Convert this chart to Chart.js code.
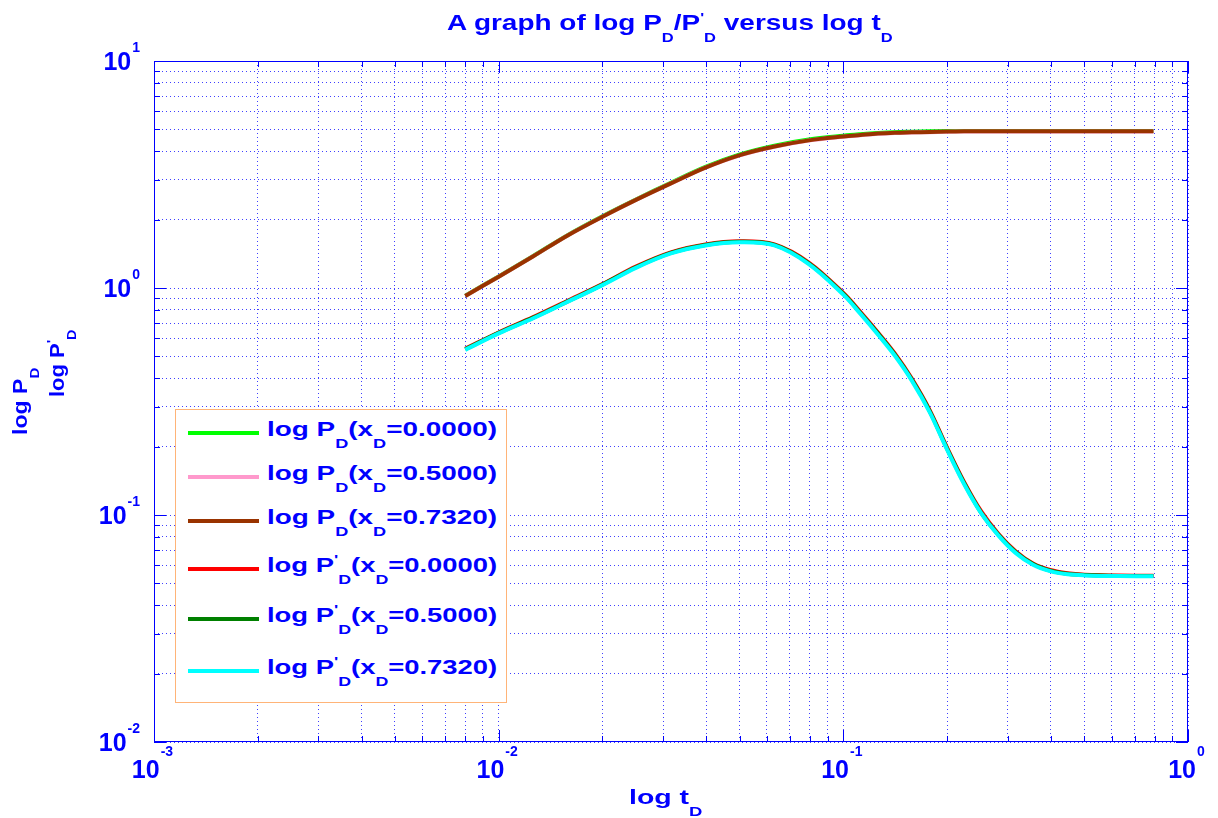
<!DOCTYPE html>
<html lang="en">
<head>
<meta charset="UTF-8">
<title>log PD / PD' versus log tD</title>
<script src="https://cdn.jsdelivr.net/npm/chart.js"></script>
<style>
    body { margin: 0; background: #fff; }
    #wrap { position: relative; width: 1218px; height: 818px; }
    .t {
        position: absolute; white-space: nowrap; color: #0000ff;
        font: bold 20px "Liberation Sans", Arial, sans-serif; line-height: 20px;
        transform-origin: 0 0;
    }
    .t sub { font-size: 13px; vertical-align: -12px; line-height: 0; }
    .t sup { font-size: 13px; vertical-align: 8px; line-height: 0; }
    #legendBox {
        position: absolute; left: 175px; top: 409px; width: 330px; height: 292px;
        border: 1px solid #ffb478; background: #fff;
    }
    .swatch { position: absolute; left: 188px; width: 71px; height: 4px; }
</style>
</head>
<body>
<div id="wrap">
    <canvas id="chart" width="1218" height="818"></canvas>
    <div class="t" id="title" style="font-size:22px;line-height:22px">A graph of log P<sub>D</sub>/P<sup>'</sup><sub>D</sub> versus log t<sub>D</sub></div>
    <div class="t" id="xlabel">log t<sub>D</sub></div>
    <div class="t" id="ylabel1">log P<sub>D</sub></div>
    <div class="t" id="ylabel2">log P<sup>'</sup><sub>D</sub></div>
    <div id="legendBox"></div>
</div>

<script>
// dimensionless time
const tD = [0.008, 0.01, 0.0126, 0.0158, 0.02, 0.0251, 0.0316, 0.0398, 0.0501, 0.0631,
            0.0794, 0.1, 0.112, 0.126, 0.141, 0.158, 0.178, 0.2, 0.224, 0.251,
            0.282, 0.316, 0.355, 0.398, 0.447, 0.501, 0.631, 0.794];

// log PD curves
const pD_x0000 = [0.925, 1.124, 1.383, 1.705, 2.07, 2.46, 2.91, 3.42, 3.88, 4.24,
                  4.51, 4.69, 4.76, 4.82, 4.86, 4.88, 4.90, 4.91, 4.91, 4.91,
                  4.91, 4.91, 4.91, 4.91, 4.91, 4.91, 4.91, 4.91];
const pD_x5000 = [0.923, 1.121, 1.379, 1.70, 2.06, 2.45, 2.89, 3.39, 3.84, 4.19,
                  4.46, 4.64, 4.71, 4.78, 4.82, 4.84, 4.86, 4.88, 4.89, 4.89,
                  4.89, 4.89, 4.89, 4.89, 4.89, 4.89, 4.89, 4.89];
const pD_x7320 = [0.923, 1.122, 1.38, 1.70, 2.06, 2.45, 2.89, 3.39, 3.85, 4.20,
                  4.47, 4.65, 4.72, 4.79, 4.83, 4.85, 4.87, 4.89, 4.90, 4.90,
                  4.90, 4.90, 4.90, 4.90, 4.90, 4.90, 4.90, 4.90];

// log PD' curves
const dpD_x0000 = [0.54, 0.637, 0.744, 0.876, 1.04, 1.245, 1.435, 1.555, 1.605, 1.555,
                   1.295, 0.95, 0.785, 0.637, 0.515, 0.399, 0.29, 0.198, 0.140, 0.104,
                   0.0825, 0.0693, 0.0612, 0.0573, 0.0554, 0.0546, 0.0541, 0.054];
const dpD_x5000 = [0.537, 0.634, 0.74, 0.871, 1.035, 1.238, 1.428, 1.548, 1.598, 1.548,
                   1.285, 0.943, 0.778, 0.631, 0.51, 0.395, 0.287, 0.196, 0.1385, 0.1025,
                   0.0818, 0.0687, 0.0608, 0.0569, 0.0551, 0.0544, 0.0539, 0.0538];
const dpD_x7320 = [0.534, 0.631, 0.736, 0.867, 1.03, 1.23, 1.42, 1.54, 1.59, 1.54,
                   1.275, 0.935, 0.771, 0.624, 0.504, 0.391, 0.284, 0.194, 0.137, 0.102,
                   0.0811, 0.0681, 0.0604, 0.0566, 0.0548, 0.0542, 0.0538, 0.0537];

const seriesNames = ['log P<sub>D</sub>(x<sub>D</sub>=0.0000)', 'log P<sub>D</sub>(x<sub>D</sub>=0.5000)',
                     'log P<sub>D</sub>(x<sub>D</sub>=0.7320)', "log P<sup>'</sup><sub>D</sub>(x<sub>D</sub>=0.0000)",
                     "log P<sup>'</sup><sub>D</sub>(x<sub>D</sub>=0.5000)", "log P<sup>'</sup><sub>D</sub>(x<sub>D</sub>=0.7320)"];
const seriesColors = ['#00ff00', '#ff99cc', '#993300', '#ff0000', '#008000', '#00ffff'];
const seriesValues = [pD_x0000, pD_x5000, pD_x7320, dpD_x0000, dpD_x5000, dpD_x7320];

// axis decades (exponents) and minor multipliers
const xDecades = [-3, -2, -1, 0];
const yDecades = [-2, -1, 0, 1];
const minorSteps = [1, 2, 3, 4, 5, 6, 7, 8, 9];

function logTicks(decades) {
    const out = [];
    decades.forEach((e, i) => {
        if (i === decades.length - 1) { out.push({ value: Math.pow(10, e), major: true }); return; }
        minorSteps.forEach(m => out.push({ value: +(m * Math.pow(10, e)).toPrecision(3), major: m === 1 }));
    });
    return out;
}

const BLUE = '#0000ff';

// frame, inward tick marks and 10^n labels
const framePlugin = {
    id: 'frame',
    afterDraw(chart) {
        const { ctx, chartArea: a, scales } = chart;
        ctx.save();
        ctx.strokeStyle = BLUE;
        ctx.lineWidth = 1;
        ctx.strokeRect(Math.round(a.left) + 0.5, Math.round(a.top) + 0.5,
                       Math.round(a.right - a.left) - 1, Math.round(a.bottom - a.top) - 1);
        ctx.beginPath();
        scales.x.ticks.forEach(t => {
            const px = Math.round(scales.x.getPixelForValue(t.value)) + 0.5;
            const len = t.major ? 12 : 6;
            ctx.moveTo(px, a.bottom); ctx.lineTo(px, a.bottom - len);
            ctx.moveTo(px, a.top); ctx.lineTo(px, a.top + len);
        });
        scales.y.ticks.forEach(t => {
            const py = Math.round(scales.y.getPixelForValue(t.value)) + 0.5;
            const len = t.major ? 12 : 6;
            ctx.moveTo(a.left, py); ctx.lineTo(a.left + len, py);
            ctx.moveTo(a.right, py); ctx.lineTo(a.right - len, py);
        });
        ctx.stroke();

        ctx.fillStyle = BLUE;
        const big = 'bold 25px "Liberation Sans", Arial, sans-serif';
        const small = 'bold 14px "Liberation Sans", Arial, sans-serif';
        xDecades.forEach(e => {
            const px = scales.x.getPixelForValue(Math.pow(10, e));
            ctx.font = big; const w1 = ctx.measureText('10').width;
            ctx.font = small; const w2 = ctx.measureText(String(e)).width;
            const x0 = px - (w1 + w2) / 2 - 2;
            ctx.font = big; ctx.fillText('10', x0, 778);
            ctx.font = small; ctx.fillText(String(e), x0 + w1 + 1, 756);
        });
        yDecades.forEach(e => {
            const py = scales.y.getPixelForValue(Math.pow(10, e));
            ctx.font = small; const w2 = ctx.measureText(String(e)).width;
            ctx.font = big; const w1 = ctx.measureText('10').width;
            const x0 = 140 - w2 - 1 - w1;
            ctx.fillText('10', x0, py + 9);
            ctx.font = small; ctx.fillText(String(e), x0 + w1 + 1, py - 9);
        });
        ctx.restore();
    }
};

const axisBase = {
    type: 'logarithmic',
    grid: { color: 'rgba(0,0,255,0.75)', lineWidth: 1, drawTicks: false },
    border: { display: false, dash: [1, 3] },
    ticks: { display: false, autoSkip: false }
};

new Chart(document.getElementById('chart'), {
    type: 'line',
    data: {
        datasets: seriesValues.map((vals, i) => ({
            data: tD.map((t, j) => ({ x: t, y: vals[j] })),
            borderColor: seriesColors[i],
            borderWidth: 4,
            pointRadius: 0,
            tension: 0.35,
            order: 5 - i
        }))
    },
    options: {
        responsive: false,
        devicePixelRatio: 1,
        animation: false,
        layout: { padding: { left: 154, top: 61, right: 30, bottom: 76 } },
        plugins: { legend: { display: false }, tooltip: { enabled: false } },
        scales: {
            x: { ...axisBase, min: 1e-3, max: 1, afterBuildTicks: s => { s.ticks = logTicks(xDecades); } },
            y: { ...axisBase, min: 1e-2, max: 10, afterBuildTicks: s => { s.ticks = logTicks(yDecades); } }
        }
    },
    plugins: [framePlugin]
});

// stretch text horizontally to the reference widths
function place(el, x, baseline, width) {
    const fs = parseFloat(getComputedStyle(el).fontSize);
    const s = width / el.offsetWidth;
    el.style.left = x + 'px';
    el.style.top = (baseline - 0.846 * fs) + 'px';
    el.style.transform = 'scaleX(' + s + ')';
}
function placeV(el, baselineX, startY, length) {
    const fs = parseFloat(getComputedStyle(el).fontSize);
    const s = length / el.offsetWidth;
    el.style.left = (baselineX - 0.846 * fs) + 'px';
    el.style.top = startY + 'px';
    el.style.transform = 'rotate(-90deg) scaleX(' + s + ')';
}

// legend rows
const wrap = document.getElementById('wrap');
const rowY = [433, 477, 521, 569, 619, 671];
seriesNames.forEach((name, i) => {
    const sw = document.createElement('div');
    sw.className = 'swatch';
    sw.style.top = (rowY[i] - 2) + 'px';
    sw.style.background = seriesColors[i];
    wrap.appendChild(sw);
    const t = document.createElement('div');
    t.className = 't';
    t.innerHTML = name;
    wrap.appendChild(t);
    place(t, 267, rowY[i] + 3, 230);
});

place(document.getElementById('title'), 447, 31, 446);
place(document.getElementById('xlabel'), 629, 804, 74);
placeV(document.getElementById('ylabel1'), 27, 435, 67);
placeV(document.getElementById('ylabel2'), 64, 397, 67);
</script>
</body>
</html>
